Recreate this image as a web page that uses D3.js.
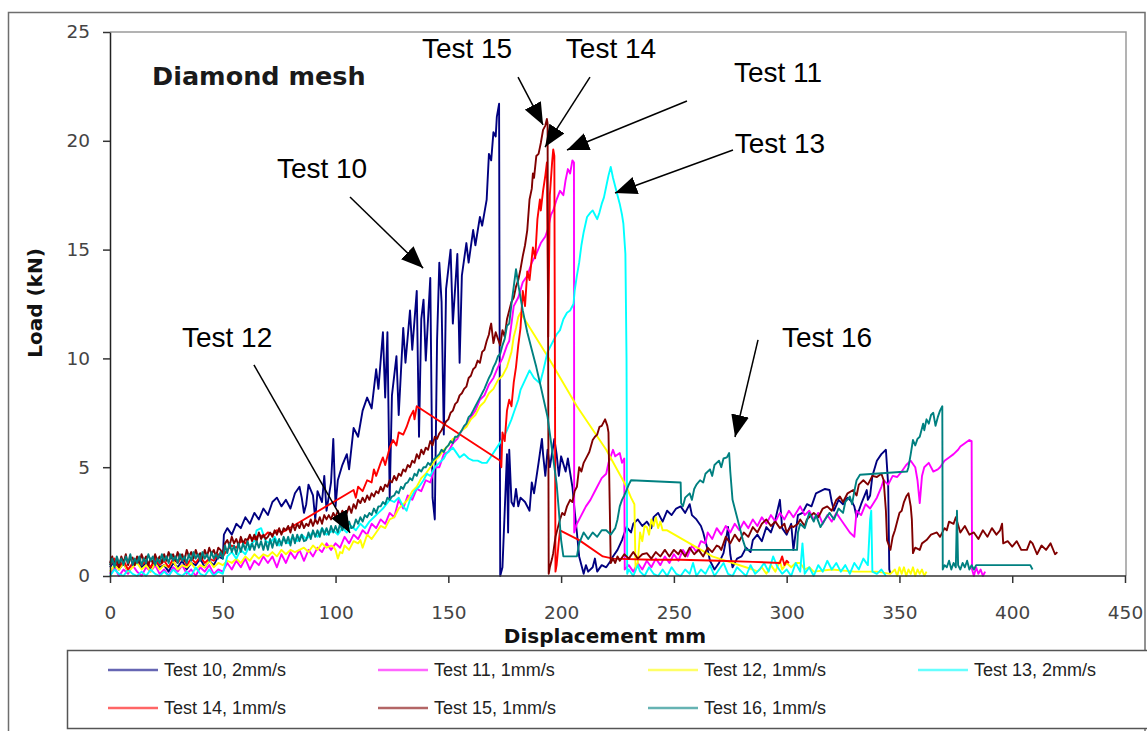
<!DOCTYPE html>
<html>
<head>
<meta charset="utf-8">
<script src="https://cdn.jsdelivr.net/npm/d3@7"></script>
<style>
  html, body { margin: 0; padding: 0; background: #ffffff; }
  svg { display: block; }
</style>
</head>
<body>
<svg id="chart" width="1147" height="731"></svg>
<script>
// ---- axis ticks ----
const xTicks = [0, 50, 100, 150, 200, 250, 300, 350, 400, 450];
const yTicks = [0, 5, 10, 15, 20, 25];

// ---- series labels and colours (Excel palette) ----
const seriesNames = ["Test 10, 2mm/s", "Test 11, 1mm/s", "Test 12, 1mm/s", "Test 13, 2mm/s",
                     "Test 14, 1mm/s", "Test 15, 1mm/s", "Test 16, 1mm/s"];
const seriesColors = ["#000080", "#ff00ff", "#ffff00", "#00ffff", "#ff0000", "#800000", "#008080"];

// ---- load (kN) against displacement (mm) ----
const test10 = [[0,0.4],[2,0.7],[4,0.3],[6,0.6],[8,0.2],[10,0.5],[12,0.8],[14,0.4],[16,0.6],[18,0.3],[20,0.7],[22,0.4],[24,0.5],[26,0.2],[28,0.6],[30,0.4],[32,0.7],[34,0.3],[36,0.6],[38,0.5],[40,0.8],[42,0.4],[44,0.7],[46,0.5],[48,0.9],[50,0.8],[50.5,1.9],[52,2.2],[54,1.9],[56,2.4],[58,2.2],[60,2.7],[62,2.4],[64,2.9],[66,2.6],[68,3.1],[70,2.8],[72,3.4],[74,3.6],[76,3.2],[78,3.5],[80,3.1],[82,3.8],[84,4.1],[85,3.6],[86,2.9],[87,3.3],[88,4.2],[90,3.7],[91,2.6],[92,3.9],[94,3.4],[95,4.6],[96,3.0],[98,4.3],[99,6.3],[100,3.2],[101,4.4],[103,5.1],[105,5.6],[106,4.9],[108,6.8],[110,6.4],[112,7.6],[114,8.2],[116,7.7],[118,9.5],[119,8.6],[121,11.2],[122,8.2],[123,11.2],[124,3.6],[125,8.3],[127,10.1],[128,7.4],[130,11.4],[131,9.8],[133,12.2],[134,10.4],[136,13.1],[137,6.4],[138,11.8],[139,12.7],[140,9.9],[142,13.7],[143,3.6],[144,2.6],[145,10.8],[146,14.4],[147,12.6],[148,6.5],[149,13.2],[151,15.0],[152,11.6],[154,14.8],[155,9.8],[156,13.8],[158,15.3],[159,14.4],[161,15.9],[162,15.2],[164,16.5],[165,16.1],[167,17.3],[168,19.4],[169,19.1],[170,20.4],[171,20.2],[171.5,21.1],[172.5,21.7],[173,0],[174,0.4],[175,3.0],[176,5.6],[176.5,2.0],[177,5.8],[178,3.4],[179,3.2],[180,4.0],[181,3.2],[182,3.6],[184,3.4],[186,3.0],[187,4.3],[188,3.8],[190,5.2],[191.5,6.3],[192,5.6],[193,4.6],[194,5.8],[195,5.0],[197,6.3],[198,5.6],[199,4.6],[200,5.5],[202,4.8],[203,5.4],[205,4.1],[206,3.0],[207,2.0],[208,0.9],[210,0.1],[211,0.5],[212,0.2],[214,0.4],[215,0.8],[216,0.2],[218,0.5],[220,0.4],[222,0.7],[223,0.9],[225,1.2],[227,1.65],[229,2.25],[231,2.0],[232,2.4],[234,2.6],[236,2.3],[238,2.5],[240,2.2],[241,2.7],[243,2.9],[245,2.5],[247,3.0],[249,2.8],[251,3.1],[253,3.2],[255,2.9],[257,3.3],[258,2.8],[260,2.6],[262,2.3],[263,2.0],[265,1.2],[266,0.7],[268,0.3],[270,0.6],[272,1.05],[273,1.6],[274,2.25],[275,1.0],[276,0.4],[278,0.8],[280,0.9],[282,1.3],[284,1.1],[285,1.65],[287,1.9],[289,1.6],[291,2.25],[293,2.0],[295,2.6],[297,3.5],[298,2.2],[300,1.9],[302,2.4],[303,1.2],[305,2.8],[307,2.9],[309,3.3],[311,3.2],[312,3.5],[313,3.8],[315,3.9],[317,4.0],[319,3.95],[320,3.4],[321,3.0],[323,3.5],[325,3.3],[327,3.6],[329,3.4],[330,3.2],[331,2.7],[333,3.3],[335.5,3.95],[336,3.5],[337,3.7],[338,4.6],[340,5.3],[342,5.6],[344,5.8],[345,4.2],[345.5,0.3],[346,0.1]];

const test11 = [[0,0.1],[2,0.4],[4,0.0],[6,0.3],[8,0.1],[10,0.5],[12,0.2],[14,0.0],[16,0.4],[18,0.2],[20,0.5],[22,0.1],[24,0.3],[26,0.0],[28,0.4],[30,0.2],[32,0.5],[34,0.1],[36,0.3],[38,0.0],[40,0.4],[42,0.2],[44,0.5],[46,0.1],[48,0.3],[50,0.2],[52,0.6],[54,0.3],[56,0.7],[58,0.4],[60,0.8],[62,0.3],[64,0.7],[66,0.5],[68,0.9],[70,0.6],[72,0.9],[74,0.4],[76,1.0],[78,0.6],[80,1.1],[82,0.8],[84,1.2],[86,0.7],[88,1.2],[90,0.9],[92,1.3],[94,1.1],[96,1.5],[98,1.2],[100,1.5],[102,1.3],[104,1.8],[106,1.5],[108,1.9],[110,1.7],[112,2.1],[114,1.9],[116,2.4],[118,2.2],[120,2.6],[122,2.4],[124,2.9],[126,2.7],[128,3.5],[130,3.1],[132,3.7],[134,3.5],[136,4.0],[138,3.9],[140,4.4],[142,4.3],[144,5.0],[146,5.0],[148,5.6],[150,5.7],[152,6.1],[154,6.3],[156,6.7],[158,6.9],[160,7.3],[162,7.6],[164,8.1],[166,8.3],[168,8.8],[170,9.1],[172,9.6],[174,10.0],[176,10.6],[177,10.8],[179,12.4],[181,12.8],[183,13.5],[185,13.8],[187,14.4],[189,14.8],[191,15.3],[193,15.6],[194,15.9],[195.5,16.6],[196.5,16.8],[198,17.3],[199.5,17.7],[201,17.5],[202,18.2],[203,18.7],[204,18.5],[205,19.1],[205.7,19.0],[205.8,2.0],[207,2.4],[209,2.8],[211,3.2],[213,3.5],[214.5,3.8],[216,4.1],[218,4.5],[220,4.7],[221,5.2],[223,5.8],[224,5.5],[226,5.65],[227,5.2],[228,5.4],[228.2,0.3],[230,0.5],[232,0.2],[234,0.6],[236,0.3],[238,0.7],[240,0.4],[242,0.8],[244,0.5],[246,0.9],[248,0.6],[250,1.0],[252,0.7],[254,1.2],[256,0.9],[258,1.4],[260,1.1],[262,1.6],[264,1.5],[265,2.0],[267,1.7],[269,2.2],[271,1.9],[273,2.3],[275,2.0],[277,2.4],[279,2.1],[281,2.5],[283,2.2],[285,2.6],[287,2.3],[289,2.7],[291,2.4],[293,2.8],[295,2.5],[297,2.9],[299,2.6],[301,3.0],[303,2.7],[306,3.2],[308,2.8],[310,3.0],[312,2.6],[314,2.9],[316,2.4],[318,2.8],[320,2.5],[322,2.9],[324,2.6],[326,2.3],[328,2.0],[330,1.8],[331,3.0],[333,2.8],[335,3.3],[337,3.1],[340,3.6],[342,4.1],[343,4.4],[345,4.2],[347,4.6],[349,4.55],[351,4.8],[353,5.1],[355,5.3],[357,5.0],[358,4.4],[359,3.35],[360,4.6],[361,5.0],[363,5.2],[365,4.8],[367,4.9],[368,5.0],[370,5.3],[372,5.45],[374,5.6],[376,5.8],[377,5.95],[379,6.1],[381,6.25],[382,6.2],[382.2,0.3],[383,0.0],[384,0.4],[385,0.1],[386,0.3],[387,0.0],[388,0.2]];

const test12 = [[0,0.2],[2,0.5],[4,0.3],[6,0.6],[8,0.2],[10,0.4],[12,0.6],[14,0.3],[16,0.5],[18,0.2],[20,0.6],[22,0.3],[24,0.5],[26,0.4],[28,0.7],[30,0.3],[32,0.5],[34,0.4],[36,0.6],[38,0.3],[40,0.5],[42,0.4],[44,0.7],[46,0.4],[48,0.6],[50,0.5],[52,0.7],[54,0.6],[56,0.8],[58,0.6],[60,0.9],[62,0.7],[64,1.0],[66,0.8],[68,1.0],[70,0.9],[72,1.1],[74,0.9],[76,1.2],[78,1.0],[80,1.2],[82,1.1],[84,1.2],[86,1.3],[88,1.1],[90,1.4],[92,1.2],[94,1.5],[96,1.3],[98,1.4],[99,1.35],[100,1.2],[101,0.8],[102,1.1],[103,1.05],[104,1.4],[106,1.2],[108,1.6],[110,1.5],[111,1.65],[112,1.3],[114,1.9],[116,1.7],[118,2.0],[120,2.3],[122,2.2],[124,2.6],[126,2.7],[128,3.1],[130,3.3],[132,3.5],[134,3.9],[136,4.1],[138,4.5],[140,4.7],[142,5.0],[144,5.3],[146,5.5],[148,5.8],[150,6.0],[152,6.3],[154,6.4],[156,6.7],[158,6.85],[160,7.2],[162,7.4],[164,7.8],[166,8.0],[168,8.4],[170,8.6],[172,9.0],[174,9.2],[176,9.6],[178,10.3],[179,11.0],[180,11.4],[181,11.9],[182,12.1],[194,10.1],[207,7.8],[220,5.8],[229,4.1],[231,3.6],[232.5,3.3],[233,0.3],[234,0.6],[235,2.0],[236,1.6],[237,2.3],[238,2.25],[239,1.9],[240,2.6],[241,2.3],[242,2.7],[243,2.2],[244,2.5],[245,2.1],[247,2.1],[267,0.9],[285,0.3],[287,0.2],[289,0.4],[291,0.1],[293,0.5],[295,0.2],[297,0.7],[298,0.3],[300,0.6],[302,0.4],[304,0.6],[306,0.6],[308,0.3],[310,0.4],[312,0.2],[320,0.3],[330,0.2],[340,0.2],[346,0.1],[348,0.3],[349,0.0],[350,0.4],[351,0.1],[352,0.4],[353,0.0],[354,0.3],[355,0.1],[356,0.4],[357,0.0],[358,0.3],[359,0.1],[360,0.3],[361,0.0],[362,0.2]];

const test13 = [[0,0.0],[2,0.3],[4,0.1],[6,0.0],[8,0.3],[10,0.1],[12,0.0],[14,0.2],[16,0.0],[18,0.3],[20,0.1],[22,0.0],[24,0.2],[26,0.0],[28,0.3],[30,0.1],[32,0.0],[34,0.2],[36,0.0],[38,0.4],[40,0.1],[42,0.0],[44,0.3],[46,0.0],[48,0.2],[50,0.1],[52,0.9],[54,1.1],[56,0.8],[58,1.2],[60,1.0],[62,1.4],[64,1.6],[65,2.1],[67,2.2],[69,1.6],[71,1.5],[73,1.8],[75,1.4],[77,1.7],[79,1.5],[81,1.8],[83,1.6],[85,1.9],[87,1.7],[90,2.0],[92,1.8],[94,2.2],[96,1.9],[99,2.1],[101,1.9],[103,2.2],[105,2.0],[107,2.3],[109,2.1],[111,2.4],[113,2.2],[115,2.5],[117,2.7],[119,2.9],[121,3.1],[124,3.5],[126,3.4],[128,3.6],[130,3.2],[131.5,3.0],[133,3.5],[135,3.9],[137,4.1],[139,4.4],[140.5,4.7],[142,4.6],[144,5.0],[146,5.2],[148,5.4],[149,5.6],[151,5.8],[152,5.9],[154,5.6],[155,5.45],[157,5.6],[159,5.4],[161,5.3],[163,5.3],[165,5.2],[167,5.2],[169,5.5],[171.5,5.9],[174,6.3],[176,6.7],[178,7.2],[179,7.5],[181,8.1],[182,8.55],[184,9.0],[186,9.45],[188,9.1],[190.6,8.85],[192,9.4],[194,10.3],[196.5,10.8],[198,11.1],[199.5,11.3],[201,11.8],[202.6,12.1],[204,12.2],[205.5,12.5],[206,13.1],[207,13.8],[208,14.4],[209,15.2],[210,15.8],[211.5,16.5],[213,16.7],[214,16.8],[215,16.6],[216,16.4],[217,16.7],[218,17.1],[219,17.4],[220,17.9],[221,18.4],[222,18.8],[223,18.3],[224,17.9],[225,17.5],[226,17.1],[227,16.6],[227.6,16.2],[228.5,14.8],[229,10.0],[229.3,0.1],[230,0.3],[232,0.0],[234,0.5],[235,0.2],[237,0.0],[239,0.4],[241,0.1],[243,0.0],[245,0.3],[247,0.0],[249,0.4],[251,0.1],[253,0.0],[255,0.3],[257,0.1],[258.5,0.6],[260,0.0],[262,0.3],[264,0.1],[266,0.5],[268,0.0],[270,0.3],[272,0.6],[274,0.1],[276,0.0],[278,0.4],[280,0.2],[282,0.0],[284,0.5],[286,0.1],[288,0.3],[290,0.6],[292,0.2],[294,0.9],[296,0.4],[298,0.1],[300,0.3],[302,0.0],[304,0.6],[306,0.2],[307,1.5],[308,0.1],[310,0.4],[312,0.0],[314,0.5],[316,0.2],[318,0.7],[320,0.3],[322,0.6],[324,0.2],[326,0.5],[328,0.1],[330,0.6],[332,0.3],[334,0.8],[336,0.5],[337,2.6],[337.5,3.0],[338,0.2],[340,0.1],[342,0.3],[344,0.0]];

const test14 = [[0,0.5],[2,0.8],[4,0.4],[6,0.7],[8,0.3],[10,0.6],[12,0.8],[14,0.5],[16,0.7],[18,0.4],[20,0.8],[22,0.5],[24,0.7],[26,0.4],[28,0.8],[30,0.6],[32,0.9],[34,0.5],[36,0.8],[38,0.6],[40,0.9],[42,0.6],[44,0.8],[46,0.7],[48,1.0],[50,0.9],[52,1.2],[54,1.4],[56,1.3],[58,1.6],[60,1.5],[62,1.8],[64,1.7],[66,1.9],[68,1.8],[70,2.0],[72,1.9],[74,2.1],[76,2.0],[78,2.1],[108,3.95],[109,3.6],[110,4.1],[112,3.9],[114,4.4],[116,4.3],[117,4.9],[118,4.6],[120,5.2],[121,5.45],[122,5.1],[124,5.9],[125.5,6.25],[127,6.0],[128,6.6],[130,6.5],[131.5,6.85],[133,7.3],[134.5,7.6],[135,7.2],[136,7.8],[173,5.3],[173.5,5.0],[174,6.6],[175,6.2],[176,7.6],[177,8.1],[178,7.8],[179,8.9],[180,9.6],[181,10.6],[182,11.4],[183,13.1],[184,12.4],[185,14.0],[186,13.6],[187.5,15.1],[188.5,14.6],[189.5,16.4],[190.6,17.3],[191,16.8],[192,17.7],[193,18.4],[193.7,19.0],[194.3,11.0],[195,17.5],[196,19.0],[196.5,19.6],[197,19.3],[197.5,0.2],[198,0.5],[199,1.6],[199.5,2.1],[208,1.65],[218.5,0.9],[223,0.8],[240,0.75],[253,0.75],[270,0.7],[285,0.65],[297,0.6],[298,0.9],[299,0.5],[300,0.7],[301,0.6]];

const test15 = [[0,0.6],[1,0.9],[2,0.5],[3,0.8],[4,0.4],[5,0.9],[6,0.6],[7,1.0],[8,0.5],[9,0.8],[10,0.85],[11,0.5],[12,0.9],[13,0.6],[14,1.0],[15,0.7],[16,0.9],[17,0.5],[18,0.8],[19,0.6],[20,1.0],[21,0.7],[22,0.9],[23,0.6],[24,1.0],[25,0.7],[26,1.1],[27,0.8],[28,1.0],[29,0.7],[30,1.1],[31,0.8],[32,1.0],[33,0.7],[34,1.2],[35,0.9],[36,1.1],[37,0.8],[38,1.2],[39,0.9],[40,1.05],[41,0.8],[42,1.2],[43,0.9],[44,1.3],[45,1.0],[46,1.2],[47,0.9],[48,1.3],[49,1.2],[50,1.0],[51,1.5],[52,1.65],[53,1.4],[54,1.8],[55,1.5],[56,1.7],[57,1.4],[58,1.8],[59,1.5],[60,1.7],[61,1.65],[62,1.9],[63,1.6],[64,1.9],[65,1.6],[66,2.0],[67,1.7],[68,1.9],[69,1.7],[70,1.8],[71,2.0],[72,1.8],[73,2.1],[74,1.9],[75,2.2],[76,1.9],[77,2.2],[78,2.1],[79,2.3],[80,2.0],[81,2.4],[82,2.1],[83,2.4],[84,2.2],[85,2.5],[86,2.2],[87,2.4],[88,2.3],[89,2.6],[90,2.3],[91,2.6],[92,2.4],[93,2.7],[94,2.4],[95,2.8],[96,2.6],[97,2.8],[98,2.6],[99,2.9],[100,2.7],[101,3.0],[102,2.7],[103,3.0],[104,2.8],[105,2.9],[106,3.2],[107,2.9],[108,3.3],[109,3.1],[110,3.5],[111,3.35],[112,3.6],[113,3.4],[114,3.7],[115,3.5],[116,3.8],[117,3.65],[118,3.9],[119,3.8],[120,4.1],[121,3.9],[122,4.2],[123,4.1],[124,4.4],[125,4.3],[126,4.6],[127,4.4],[128,4.7],[129,4.6],[130,4.9],[131,4.8],[132,5.1],[133,5.0],[134,5.3],[135,5.2],[136,5.6],[137,5.4],[138,5.8],[139,5.6],[140,5.9],[141,5.8],[142,6.2],[143,6.0],[144,6.4],[145,6.3],[146,6.55],[147,6.7],[148,6.9],[149,7.1],[150,7.2],[151,7.5],[152,7.6],[153,7.9],[154,8.0],[155,8.3],[156,8.4],[157,8.6],[158,8.7],[159,9.1],[160,9.2],[161,9.5],[162,9.6],[163,9.9],[164,9.8],[165,10.3],[166,10.4],[167,10.8],[168,11.1],[168.5,11.4],[169,11.6],[170,10.7],[171,11.2],[172,10.9],[173,10.6],[174,11.3],[175,11.0],[176,11.8],[177,12.2],[178,12.6],[179,12.8],[180,13.3],[181,13.6],[182,14.1],[183,14.7],[184,15.2],[185,15.9],[186,17.3],[187,17.8],[187.5,18.5],[188,18.3],[189,19.3],[190,19.4],[190.6,19.7],[191,19.9],[192,20.5],[193,20.7],[193.7,21.0],[194,20.8],[194.5,0.1],[195,0.4],[196,0.8],[196.5,1.05],[197.5,1.8],[198.5,2.2],[199.5,2.6],[200.5,2.9],[201.5,2.8],[202.6,3.2],[204,3.5],[205,3.4],[206,3.9],[207,4.1],[208,5.0],[209,4.8],[210,5.2],[211.5,5.5],[212.5,5.7],[214,6.25],[215,6.4],[216,6.5],[217,6.85],[218,6.9],[219.5,7.2],[220.5,6.9],[221,6.6],[222,0.6],[223,0.8],[224,0.6],[225,0.9],[226,0.7],[228,1.0],[230,0.8],[232,1.1],[234,0.8],[236,1.0],[238,1.05],[240,0.8],[242,1.1],[244,0.9],[246,1.2],[248,0.9],[250,1.2],[252,1.0],[253,1.2],[255,0.9],[257,1.3],[259,1.0],[261,1.2],[263,0.9],[265,1.3],[267,1.1],[269,1.4],[270,1.35],[271,1.2],[273,1.8],[275,1.5],[277,1.9],[279,1.6],[281,2.0],[283,1.8],[285,2.25],[287,2.0],[289,2.4],[291,2.6],[293,2.3],[295,2.5],[297,2.2],[299,2.4],[300,2.0],[302,2.3],[303,2.25],[305,2.4],[306,2.6],[308,2.3],[309,2.6],[311,2.8],[312,2.9],[314,2.7],[316,3.1],[318,3.2],[320,3.0],[322,3.5],[323.6,3.65],[325,3.4],[327,3.8],[329.5,3.95],[331,3.7],[332,4.2],[334,4.4],[336,4.2],[338,4.6],[340,4.55],[342,4.7],[343,4.4],[344,3.0],[344.5,1.65],[346,1.2],[347,1.8],[348,2.1],[349,2.5],[350,2.9],[351,3.0],[352,3.4],[353,3.65],[354,3.8],[355,3.2],[355.5,2.6],[356,1.05],[357,1.3],[359,1.2],[360,1.5],[362,1.65],[364,1.9],[366.6,2.0],[368,1.8],[370,2.2],[371,2.1],[372,2.5],[374,2.4],[375,2.7],[377,2.0],[379,2.3],[381,1.9],[383,2.0],[385,1.7],[387,2.1],[389,1.8],[391,2.2],[393,1.9],[394.6,2.1],[395.5,2.4],[396,1.5],[398,1.6],[400,1.35],[402,1.6],[404,1.2],[406.5,1.2],[408,1.6],[409,1.5],[411,1.0],[413,1.4],[415,1.2],[417,1.5],[419,1.0],[420,1.1]];

const test16 = [[0,0.5],[1,0.8],[2,0.4],[3,0.9],[4,0.6],[5,0.8],[6,0.5],[7,0.9],[8,0.6],[9,1.0],[10,0.5],[11,0.8],[12,0.6],[13,0.9],[14,0.5],[15,0.8],[16,0.6],[17,1.0],[18,0.7],[19,0.9],[20,0.5],[21,0.8],[22,0.6],[23,1.0],[24,0.7],[25,0.9],[26,0.6],[27,1.0],[28,0.7],[29,0.9],[30,0.6],[31,1.0],[32,0.7],[33,0.9],[34,0.6],[35,1.0],[36,0.7],[37,1.1],[38,0.8],[39,1.0],[40,0.7],[41,1.1],[42,0.8],[43,1.0],[44,0.7],[45,1.1],[46,0.8],[47,1.0],[48,0.8],[49,1.1],[50,0.8],[51,1.4],[52,1.05],[53,1.5],[54,1.1],[55,1.4],[56,1.0],[57,1.5],[58,1.1],[59,1.5],[60,1.2],[61,1.6],[62,1.2],[63,1.5],[64,1.2],[65,1.6],[66,1.3],[67,1.6],[68,1.2],[69,1.6],[70,1.2],[71,1.7],[72,1.3],[73,1.7],[74,1.4],[75,1.7],[76,1.4],[77,1.8],[78,1.5],[79,1.8],[80,1.4],[81,1.9],[82,1.5],[83,1.9],[84,1.6],[85,1.9],[86,1.6],[87,1.65],[88,2.0],[89,1.7],[90,2.1],[91,1.8],[92,2.1],[93,1.8],[94,2.2],[95,1.9],[96,2.2],[97,1.9],[98,2.3],[99,2.0],[100,2.3],[101,2.0],[102,2.4],[103,2.1],[104,2.4],[105,2.2],[106,2.5],[107,2.2],[108,2.25],[109,2.6],[110,2.4],[111,2.7],[112,2.5],[113,2.8],[114,2.7],[115,2.9],[116,2.8],[117,3.1],[118,2.9],[119,3.2],[120,3.2],[121,3.4],[122,3.3],[123,3.6],[124,3.5],[125,3.65],[126,3.7],[127,3.9],[128,3.8],[129,4.1],[130,4.0],[131,4.25],[132,4.3],[133,4.5],[134,4.4],[135,4.7],[136,4.6],[137,4.9],[138,4.8],[139,5.0],[140,5.0],[141,5.2],[142,5.1],[143,5.3],[144,5.4],[145,5.5],[146,5.6],[147,5.8],[148,5.7],[149,5.9],[150,6.0],[151,6.2],[152,6.1],[153,6.4],[154,6.4],[155,6.55],[156,6.7],[157,6.9],[158,7.0],[159,7.3],[160,7.4],[161,7.6],[162,7.8],[163,8.0],[164,8.2],[165,8.4],[166,8.6],[167,8.85],[168,9.1],[169,9.3],[170,9.6],[171,9.8],[172,10.1],[173,10.2],[174,10.6],[175,10.9],[176,11.5],[177,11.6],[178,12.5],[179,13.3],[180,14.1],[181,13.4],[183,12.2],[185,11.2],[187,10.4],[189,9.6],[191,8.7],[194,7.3],[196,5.8],[198,4.25],[199,3.0],[200,1.65],[201,0.9],[207,0.9],[208,1.5],[210,2.0],[212,1.7],[214,2.0],[216,1.8],[218,2.1],[220,2.1],[222,1.9],[224,2.2],[225,2.6],[226,3.2],[227,3.5],[228,3.7],[229,3.95],[230,4.2],[231,4.4],[253,4.3],[253.2,3.35],[254,3.2],[255,3.6],[257,3.8],[258,3.5],[259,4.0],[260,4.2],[261.6,4.4],[263,4.3],[264,4.7],[266,4.9],[267,4.6],[268,5.1],[270,5.3],[271,5.0],[272,5.4],[273.5,5.45],[274.5,5.65],[275,4.8],[276,3.5],[278,2.7],[280.6,1.65],[282,1.2],[304.6,1.2],[305,2.0],[306,2.4],[308,2.2],[310,2.9],[312,2.5],[313,2.8],[315,2.25],[317,2.6],[319,2.9],[321,2.6],[323,3.1],[325,2.9],[326,3.4],[328,3.65],[329,3.3],[330,3.9],[331,4.4],[332.5,4.65],[353.4,4.8],[354,5.0],[355,5.6],[356,6.25],[357,6.0],[358,6.3],[359,6.4],[360.5,7.0],[361,6.7],[362,7.2],[363,7.0],[364,7.4],[365,7.5],[366,6.9],[367,7.3],[368,7.6],[369,7.8],[369.2,0.3],[370,0.5],[371,0.4],[372,0.7],[373,0.3],[374,0.6],[375,0.4],[375.5,3.0],[376,0.5],[377,0.3],[378,0.6],[379,0.4],[380,0.7],[381,0.3],[382,0.5],[383,0.3],[384,0.5],[408,0.5],[409,0.3]];

const allSeries = [test10, test11, test12, test13, test14, test15, test16];

// ---- callouts: label position and arrow (start -> tip), in data units ----
const callouts = [
  { label: "Test 15", tx: 158.3, ty: 24.26, x1: 180.9, y1: 22.93, x2: 192.0, y2: 20.73 },
  { label: "Test 14", tx: 222.1, ty: 24.26, x1: 212.8, y1: 22.93, x2: 192.9, y2: 19.71 },
  { label: "Test 11", tx: 296.2, ty: 23.16, x1: 255.8, y1: 21.83, x2: 202.6, y2: 19.58 },
  { label: "Test 13", tx: 297.0, ty: 19.90, x1: 276.2, y1: 19.58, x2: 223.9, y2: 17.60 },
  { label: "Test 10", tx: 94.0,  ty: 18.75, x1: 106.4, y1: 17.42, x2: 138.8, y2: 14.15 },
  { label: "Test 12", tx: 51.9,  ty: 10.98, x1: 63.8,  y1: 9.70,  x2: 106.4, y2: 1.98 },
  { label: "Test 16", tx: 317.9, ty: 10.98, x1: 287.3, y1: 10.85, x2: 277.1, y2: 6.39 }
];

// ---- layout ----
const plot = { left: 110, right: 1126, top: 32, bottom: 576 };
const svg = d3.select("#chart");

const x = d3.scaleLinear().domain([0, 450]).range([plot.left, 1125]);
const y = d3.scaleLinear().domain([0, 25]).range([plot.bottom, plot.top]);

// outer chart frame
svg.append("rect")
  .attr("x", 8.5).attr("y", 12.5)
  .attr("width", 1136.5).attr("height", 740)
  .attr("fill", "#ffffff").attr("stroke", "#6e6e6e").attr("stroke-width", 1.5);

// plot-area border (top and right)
svg.append("path")
  .attr("d", `M${plot.left},${plot.top}H${plot.right}V${plot.bottom}`)
  .attr("fill", "none").attr("stroke", "#9a9a9a").attr("stroke-width", 1.5);

// series lines
const line = d3.line().x(d => x(d[0])).y(d => y(d[1]));
const seriesG = svg.append("g");
allSeries.forEach((data, i) => {
  seriesG.append("path")
    .datum(data)
    .attr("d", line)
    .attr("fill", "none")
    .attr("stroke", seriesColors[i])
    .attr("stroke-width", 1.9)
    .attr("stroke-linejoin", "round");
});

// axes
const xAxis = svg.append("g")
  .attr("transform", `translate(0,${plot.bottom})`)
  .call(d3.axisBottom(x).tickValues(xTicks).tickSize(7).tickSizeOuter(0).tickFormat(d3.format("d")));
xAxis.select(".domain").attr("stroke", "#333").attr("stroke-width", 1.5).attr("d", `M${plot.left},0H${plot.right}`);
xAxis.selectAll(".tick line").attr("stroke", "#333").attr("stroke-width", 1.5);
xAxis.selectAll(".tick text")
  .attr("y", 30).attr("dy", "0.71em")
  .attr("fill", "#444")
  .style("font-family", "'DejaVu Sans', sans-serif").style("font-size", "18.5px");

const yAxis = svg.append("g")
  .attr("transform", `translate(${plot.left},0)`)
  .call(d3.axisLeft(y).tickValues(yTicks).tickSize(7).tickSizeOuter(0).tickPadding(13));
yAxis.select(".domain").attr("stroke", "#222").attr("stroke-width", 1.5);
yAxis.selectAll(".tick line").attr("stroke", "#333").attr("stroke-width", 1.5);
yAxis.selectAll(".tick text")
  .attr("fill", "#444")
  .style("font-family", "'DejaVu Sans', sans-serif").style("font-size", "18.5px");

// axis titles
svg.append("text")
  .attr("x", 605).attr("y", 636).attr("dy", "0.36em")
  .attr("text-anchor", "middle")
  .style("font-family", "'DejaVu Sans', sans-serif").style("font-weight", "bold").style("font-size", "20px")
  .attr("fill", "#111")
  .text("Displacement mm");

svg.append("text")
  .attr("transform", "translate(35,303) rotate(-90)")
  .attr("dy", "0.36em")
  .attr("text-anchor", "middle")
  .style("font-family", "'DejaVu Sans', sans-serif").style("font-weight", "bold").style("font-size", "20px")
  .attr("fill", "#111")
  .text("Load (kN)");

// in-plot title
svg.append("text")
  .attr("x", 152).attr("y", 85)
  .style("font-family", "'DejaVu Sans', sans-serif").style("font-weight", "bold").style("font-size", "25.5px")
  .attr("fill", "#1a1a1a")
  .text("Diamond mesh");

// arrowhead
svg.append("defs").append("marker")
  .attr("id", "arrowhead")
  .attr("viewBox", "0 0 22 18")
  .attr("refX", 22).attr("refY", 9)
  .attr("markerWidth", 22).attr("markerHeight", 18)
  .attr("markerUnits", "userSpaceOnUse")
  .attr("orient", "auto")
  .append("path").attr("d", "M0,0L22,9L0,18Z").attr("fill", "#000");

const calloutG = svg.append("g");
callouts.forEach(c => {
  calloutG.append("line")
    .attr("x1", x(c.x1)).attr("y1", y(c.y1))
    .attr("x2", x(c.x2)).attr("y2", y(c.y2))
    .attr("stroke", "#000").attr("stroke-width", 1.5)
    .attr("marker-end", "url(#arrowhead)");
  calloutG.append("text")
    .attr("x", x(c.tx)).attr("y", y(c.ty)).attr("dy", "0.36em")
    .attr("text-anchor", "middle")
    .style("font-family", "'Liberation Sans', Arial, sans-serif").style("font-size", "28px")
    .attr("fill", "#000")
    .text(c.label);
});

// legend
const legend = svg.append("g");
legend.append("rect")
  .attr("x", 67.5).attr("y", 650.5).attr("width", 1100).attr("height", 78)
  .attr("fill", "#ffffff").attr("stroke", "#555").attr("stroke-width", 1.5);
const legendCols = [108, 378, 648, 918];
const legendRows = [670, 708];
seriesNames.forEach((name, i) => {
  const lx = legendCols[i % 4], ly = legendRows[Math.floor(i / 4)];
  legend.append("line")
    .attr("x1", lx).attr("x2", lx + 50).attr("y1", ly).attr("y2", ly)
    .attr("stroke", seriesColors[i]).attr("stroke-width", 2.5).attr("stroke-opacity", 0.6);
  legend.append("text")
    .attr("x", lx + 56).attr("y", ly).attr("dy", "0.36em")
    .style("font-family", "'Liberation Sans', Arial, sans-serif").style("font-size", "18px")
    .attr("fill", "#222")
    .text(name);
});
</script>
</body>
</html>
